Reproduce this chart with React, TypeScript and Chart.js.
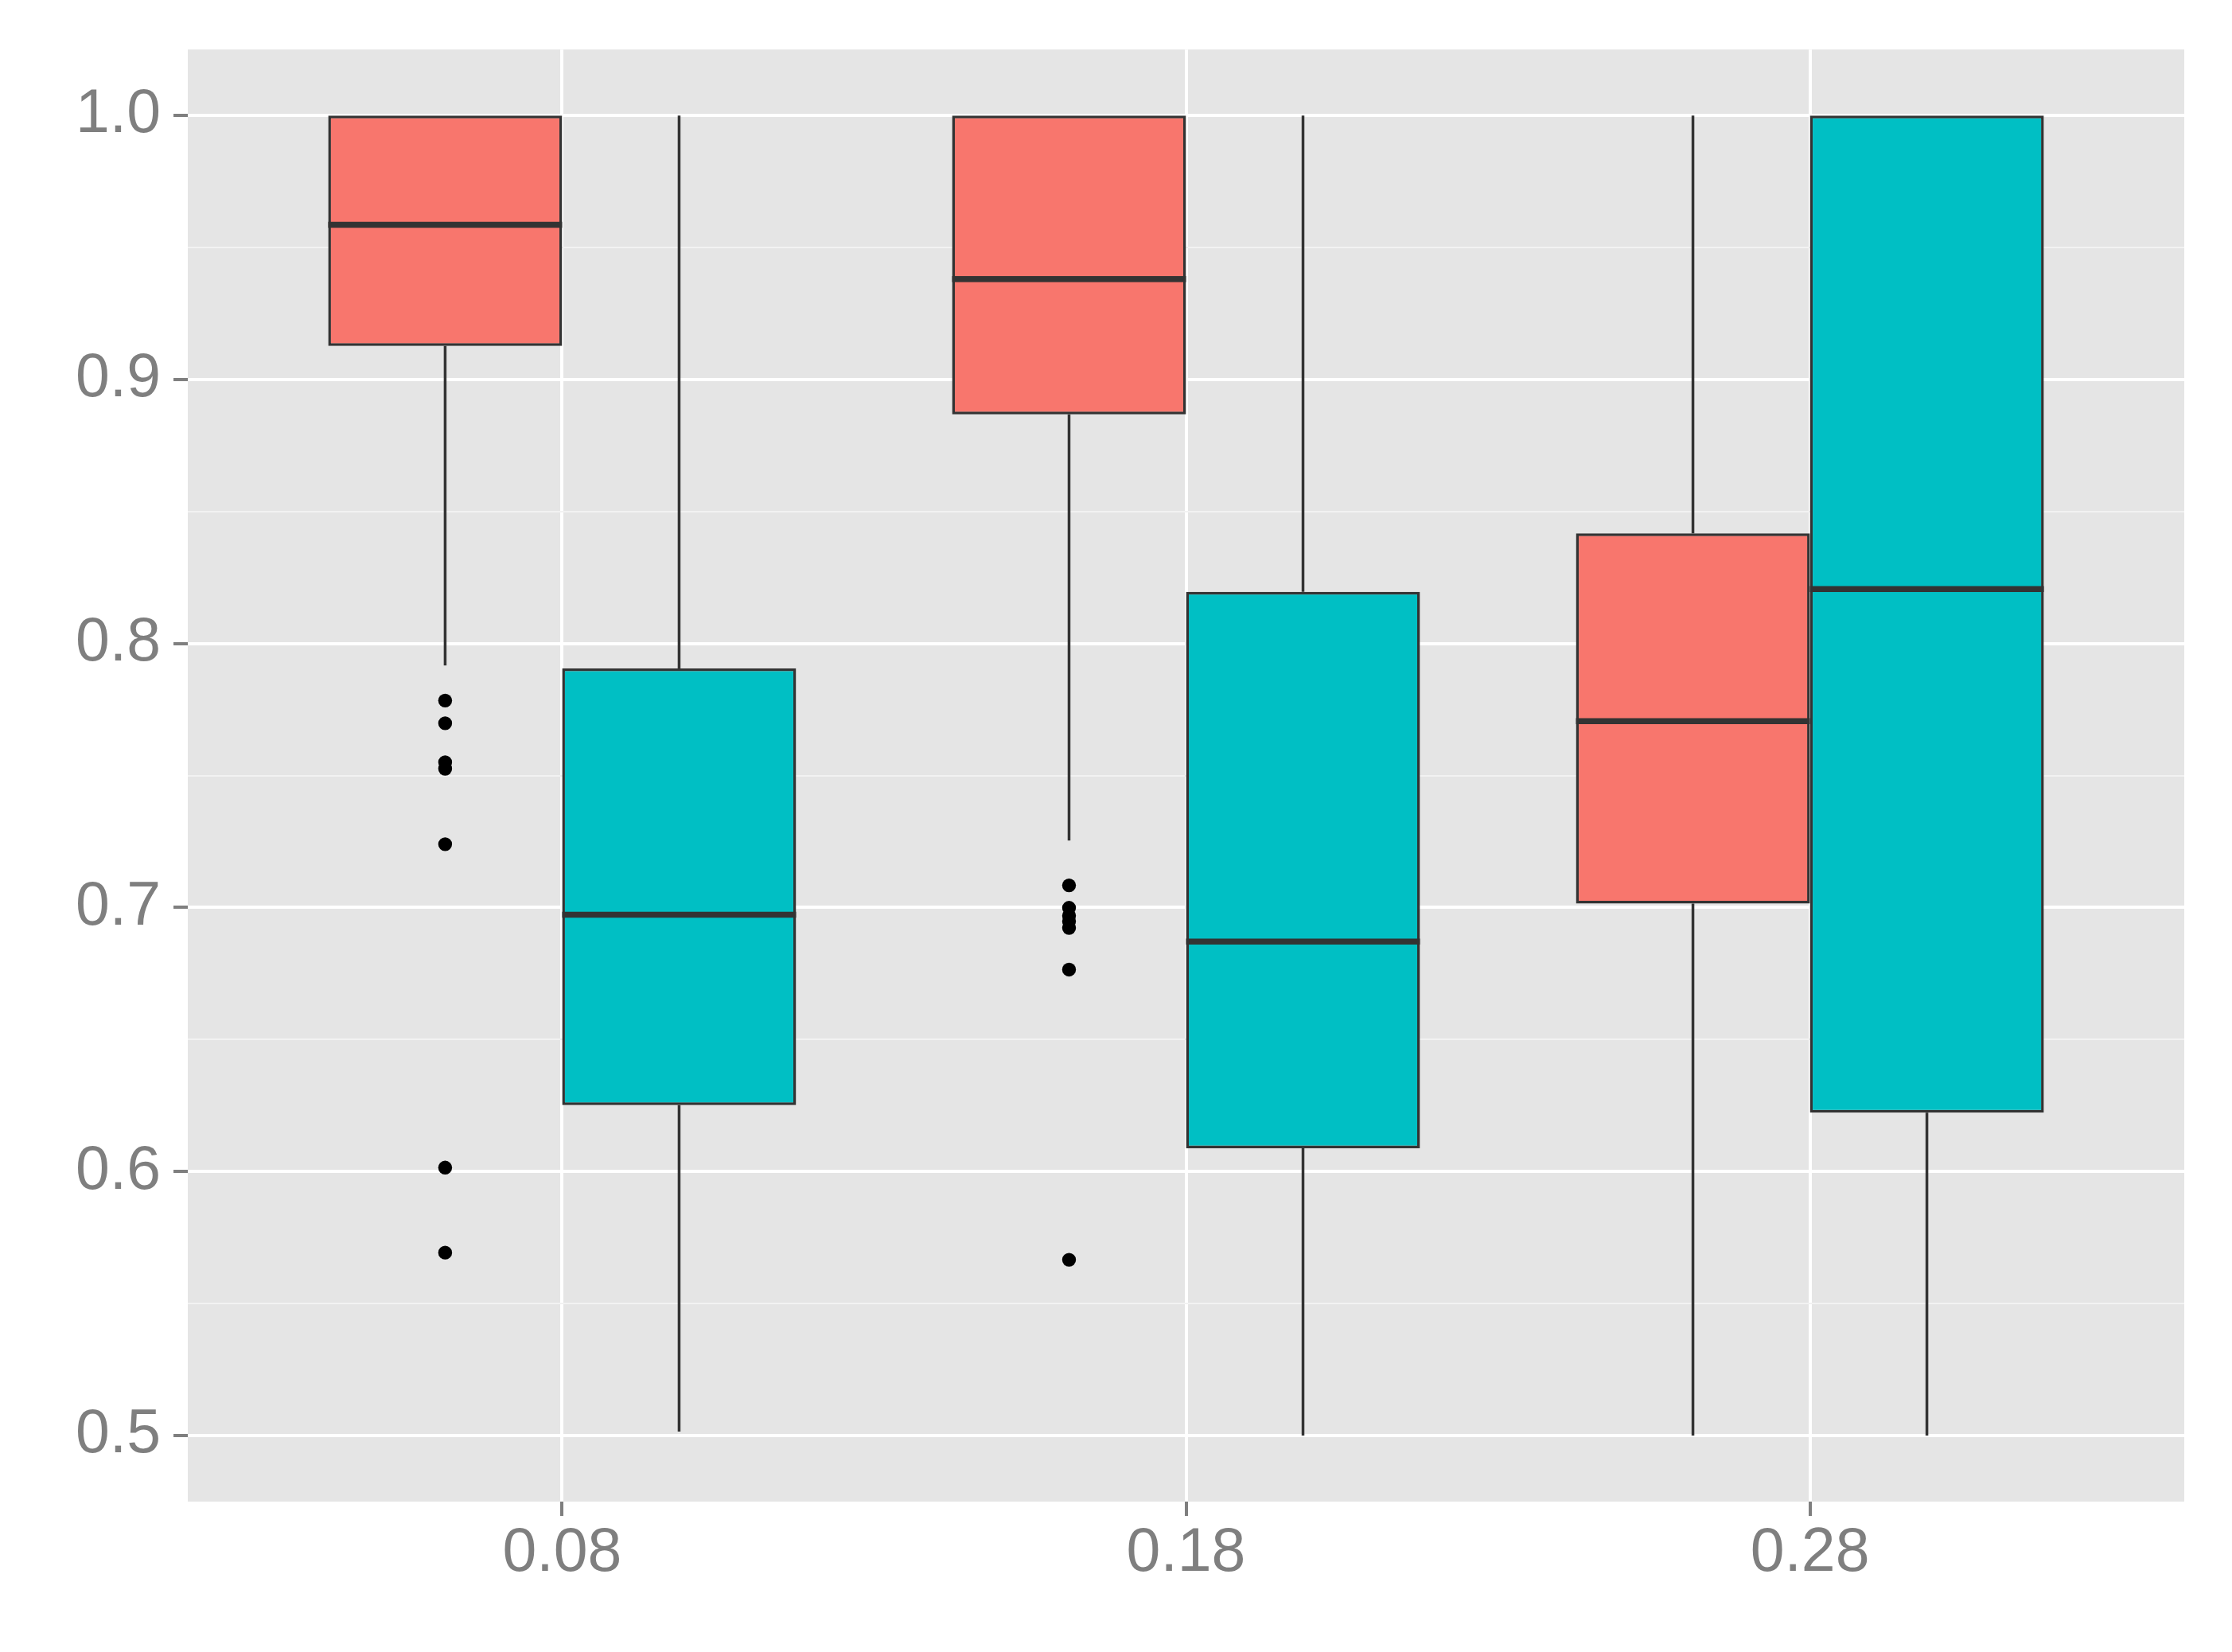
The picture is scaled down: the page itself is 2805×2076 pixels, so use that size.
import React, { useEffect, useRef } from 'react';
import { Chart, registerables } from 'chart.js';

Chart.register(...registerables);

// categories on the x axis
const groups = ['0.08', '0.18', '0.28'];

// red series (first fill level)
const redQ1 = [0.9127, 0.8868, 0.7015];
const redMedian = [0.9586, 0.938, 0.7706];
const redQ3 = [1.0, 1.0, 0.8417];
const redLow = [0.7917, 0.7254, 0.5];
const redHigh = [1.0, 1.0, 1.0];
const redOutliers = [
  [0.7784, 0.7698, 0.755, 0.7526, 0.724, 0.6015, 0.5693],
  [0.7084, 0.6999, 0.6969, 0.6948, 0.6923, 0.6765, 0.5666],
  [],
];

// teal series (second fill level)
const tealQ1 = [0.6252, 0.6088, 0.6223];
const tealMedian = [0.6973, 0.6871, 0.8206];
const tealQ3 = [0.7906, 0.8196, 1.0];
const tealLow = [0.5015, 0.5, 0.5];
const tealHigh = [1.0, 1.0, 1.0];
const tealOutliers: number[][] = [[], [], []];

// y ticks
const yMajorTicks = [0.5, 0.6, 0.7, 0.8, 0.9, 1.0];
const yMinorTicks = [0.55, 0.65, 0.75, 0.85, 0.95];

const RED = '#F8766D';
const TEAL = '#00BFC4';
const LINE = '#333333';
const GREY_TEXT = '#7F7F7F';

const series = [
  { q1: redQ1, med: redMedian, q3: redQ3, low: redLow, high: redHigh, out: redOutliers, color: RED, dodge: -0.1875 },
  { q1: tealQ1, med: tealMedian, q3: tealQ3, low: tealLow, high: tealHigh, out: tealOutliers, color: TEAL, dodge: 0.1875 },
];

const isMinor = (v: number) => yMinorTicks.some((m) => Math.abs(m - v) < 1e-6);

// grey panel behind the grid
const panelPlugin = {
  id: 'panel',
  beforeDraw(chart: any) {
    const { ctx, chartArea } = chart;
    ctx.save();
    ctx.fillStyle = '#E5E5E5';
    ctx.fillRect(chartArea.left, chartArea.top, chartArea.right - chartArea.left, chartArea.bottom - chartArea.top);
    ctx.restore();
  },
};

// whiskers under the boxes, medians on top
const boxPlugin = {
  id: 'boxParts',
  beforeDatasetsDraw(chart: any) {
    const ctx = chart.ctx;
    const y = chart.scales.y;
    ctx.save();
    ctx.strokeStyle = LINE;
    ctx.lineWidth = 3.5;
    series.forEach((s, di) => {
      chart.getDatasetMeta(di).data.forEach((bar: any, i: number) => {
        const { x } = bar.getProps(['x'], true);
        ctx.beginPath();
        if (s.high[i] > s.q3[i]) {
          ctx.moveTo(x, y.getPixelForValue(s.q3[i]));
          ctx.lineTo(x, y.getPixelForValue(s.high[i]));
        }
        if (s.low[i] < s.q1[i]) {
          ctx.moveTo(x, y.getPixelForValue(s.q1[i]));
          ctx.lineTo(x, y.getPixelForValue(s.low[i]));
        }
        ctx.stroke();
      });
    });
    ctx.restore();
  },
  afterDatasetsDraw(chart: any) {
    const ctx = chart.ctx;
    const y = chart.scales.y;
    ctx.save();
    ctx.strokeStyle = LINE;
    ctx.lineWidth = 7.5;
    ctx.lineCap = 'butt';
    series.forEach((s, di) => {
      chart.getDatasetMeta(di).data.forEach((bar: any, i: number) => {
        const { x, width } = bar.getProps(['x', 'width'], true);
        const py = y.getPixelForValue(s.med[i]);
        ctx.beginPath();
        ctx.moveTo(x - width / 2, py);
        ctx.lineTo(x + width / 2, py);
        ctx.stroke();
      });
    });
    ctx.restore();
  },
};

const BoxChart: React.FC = () => {
  const chartRef = useRef<HTMLCanvasElement>(null);
  const chartInstance = useRef<Chart | null>(null);

  useEffect(() => {
    document.body.style.margin = '0';
    document.body.style.overflow = 'hidden';
    if (!chartRef.current) return;
    if (chartInstance.current) chartInstance.current.destroy();
    const ctx = chartRef.current.getContext('2d');
    if (!ctx) return;

    const boxSets = series.map((s) => ({
      type: 'bar' as const,
      data: groups.map((_, i) => ({ x: i + 1, y: [s.q1[i], s.q3[i]] })),
      backgroundColor: s.color,
      borderColor: LINE,
      borderWidth: 3.5,
      borderSkipped: false,
      categoryPercentage: 0.75,
      barPercentage: 1.0,
      order: 2,
    }));

    const outlierSets = series.map((s) => ({
      type: 'scatter' as const,
      data: s.out.flatMap((vals, i) => vals.map((v) => ({ x: i + 1 + s.dodge, y: v }))),
      backgroundColor: '#000000',
      borderWidth: 0,
      pointRadius: 8.7,
      order: 1,
    }));

    chartInstance.current = new Chart(ctx, {
      type: 'bar',
      data: { datasets: [...boxSets, ...outlierSets] as any },
      options: {
        responsive: false,
        animation: false,
        layout: { padding: { top: 58, right: 60, bottom: 0, left: 0 } },
        plugins: { legend: { display: false }, tooltip: { enabled: false } },
        scales: {
          x: {
            type: 'linear',
            min: 0.4,
            max: 3.6,
            offset: false,
            bounds: 'data',
            afterBuildTicks: (axis: any) => {
              axis.ticks = groups.map((_, i) => ({ value: i + 1 }));
            },
            afterFit: (axis: any) => {
              axis.height = 189;
            },
            border: { display: false },
            grid: {
              offset: false,
              color: '#FFFFFF',
              lineWidth: 4,
              tickColor: GREY_TEXT,
              tickWidth: 4,
              tickLength: 18,
            },
            ticks: {
              autoSkip: false,
              maxRotation: 0,
              padding: 2,
              color: GREY_TEXT,
              font: { family: '"Liberation Sans", Arial, sans-serif', size: 77 },
              callback: (v: any) => groups[Math.round(Number(v)) - 1] ?? '',
            },
          },
          y: {
            type: 'linear',
            min: 0.475,
            max: 1.025,
            beginAtZero: false,
            bounds: 'data',
            afterBuildTicks: (axis: any) => {
              axis.ticks = [...yMajorTicks, ...yMinorTicks].sort((a, b) => a - b).map((v) => ({ value: v }));
            },
            afterFit: (axis: any) => {
              axis.width = 236;
            },
            border: { display: false },
            grid: {
              color: (c: any) => (c.tick && isMinor(c.tick.value) ? '#F2F2F2' : '#FFFFFF'),
              lineWidth: (c: any) => (c.tick && isMinor(c.tick.value) ? 2 : 4),
              tickColor: (c: any) => (c.tick && isMinor(c.tick.value) ? 'rgba(0,0,0,0)' : GREY_TEXT),
              tickWidth: 4,
              tickLength: 18,
            },
            ticks: {
              autoSkip: false,
              padding: 16,
              color: GREY_TEXT,
              font: { family: '"Liberation Sans", Arial, sans-serif', size: 77 },
              callback: (v: any) => (isMinor(Number(v)) ? '' : Number(v).toFixed(1)),
            },
          },
        },
      },
      plugins: [panelPlugin, boxPlugin],
    });

    return () => {
      if (chartInstance.current) {
        chartInstance.current.destroy();
        chartInstance.current = null;
      }
    };
  }, []);

  return (
    <div style={{ width: 2805, height: 2076, background: '#FFFFFF' }}>
      <canvas ref={chartRef} width={2805} height={2076} style={{ display: 'block' }} />
    </div>
  );
};

export default function App() {
  return <BoxChart />;
}
